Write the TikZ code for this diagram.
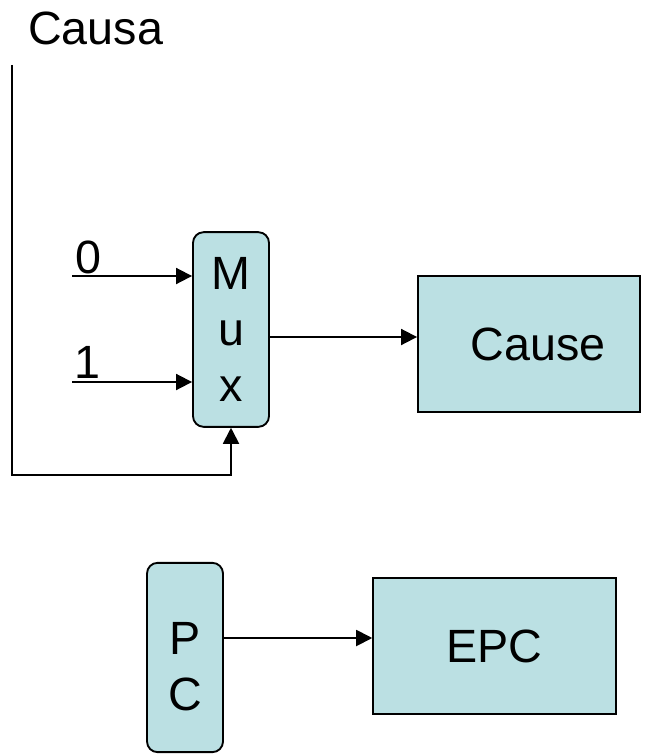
\documentclass[tikz,border=0pt]{standalone}
\usepackage{fontspec}
\setmainfont{Liberation Sans}
\usetikzlibrary{arrows.meta}

\tikzset{
  wire/.style={line width=1.4pt, -{Triangle[length=12pt,width=12pt]}},
  box/.style={draw, line width=1.4pt, fill={rgb,255:red,187;green,224;blue,227}, inner sep=0pt, align=center},
  mux/.style={box, rounded corners=8pt, minimum width=57pt},
  big/.style={font=\fontsize{35}{42}\selectfont}
}

\begin{document}
\begin{tikzpicture}[x=0.75pt,y=0.75pt,yscale=-1,xscale=1]
\useasboundingbox (0,0) rectangle (650,756);

% Shapes
\node [mux, big, minimum height=146pt] (mx) at (231,329.5) {M\\u\\x};
\node [box, big, minimum width=166.5pt, minimum height=102pt] (cause) at (529,344) {\hspace*{14pt}Cause};
\node [mux, big, minimum height=142pt] (pc) at (185,657.5) {\rule{0pt}{38pt}P\\C};
\node [box, big, minimum width=182pt, minimum height=102pt] (epc) at (494.5,646) {EPC};

% Text Node
\node [big, anchor=base west, inner sep=0pt] (causa) at (28,45) {Causa};
% Text Node
\node [big, inner sep=0pt] (lzero) at (88,257) {0};
% Text Node
\node [big, inner sep=0pt] (lone) at (87,362) {1};

% Coordinates
\coordinate (in0) at (72,276);
\coordinate (in1) at (72,382);
\coordinate (fbtop) at (12,65);
\coordinate (fbcorner) at (12,475);

% Straight Lines
\draw [wire] (in0) -- (mx.west |- in0);
\draw [wire] (in1) -- (mx.west |- in1);
\draw [wire] (fbtop) -- (fbcorner) -| (mx.south);
\draw [wire] (mx.east |- 0,337) -- (cause.west |- 0,337);
\draw [wire] (pc.east |- 0,638) -- (epc.west |- 0,638);
\end{tikzpicture}
\end{document}
